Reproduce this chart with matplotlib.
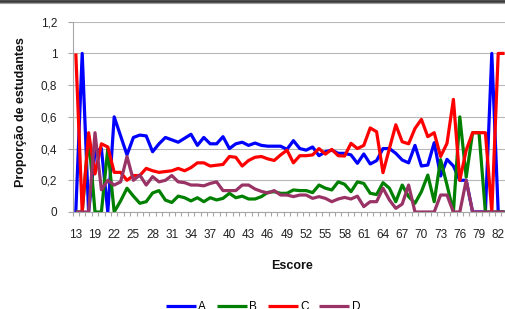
import matplotlib
matplotlib.use("Agg")
import matplotlib.pyplot as plt
from matplotlib.lines import Line2D
import numpy as np

# ---------------- data ----------------
scores = [13, 16, 18, 19, 20, 21, 22, 23, 24, 25, 26, 27, 28, 29, 30, 31, 32, 33,
          34, 35, 36, 37, 38, 39, 40, 41, 42, 43, 44, 45, 46, 47, 48, 49, 50, 51,
          52, 53, 54, 55, 56, 57, 58, 59, 60, 61, 62, 63, 64, 65, 66, 67, 68, 69,
          70, 71, 72, 73, 74, 75, 76, 77, 78, 79, 80, 81, 82, 83]

A = [0, 1.0, 0, 0.38, 0.40, 0, 0.60, 0.48, 0.36, 0.47,
     0.485, 0.48, 0.38, 0.43, 0.47, 0.455, 0.44, 0.465, 0.49, 0.42,
     0.47, 0.43, 0.43, 0.475, 0.40, 0.43, 0.44, 0.42, 0.435, 0.42,
     0.415, 0.415, 0.415, 0.395, 0.45, 0.40, 0.39, 0.41, 0.355, 0.38,
     0.39, 0.37, 0.37, 0.36, 0.307, 0.366, 0.303, 0.324, 0.40, 0.40,
     0.37, 0.328, 0.31, 0.42, 0.29, 0.296, 0.437, 0.227, 0.332, 0.29,
     0.20, 0.20, 0, 0, 0, 1.0, 0, 0]

B = [0, 0, 0.48, 0, 0, 0.40, 0, 0.07, 0.15, 0.10,
     0.055, 0.065, 0.12, 0.135, 0.075, 0.06, 0.10, 0.09, 0.07, 0.09,
     0.065, 0.09, 0.076, 0.086, 0.118, 0.09, 0.10, 0.082, 0.082, 0.097,
     0.124, 0.128, 0.118, 0.118, 0.139, 0.135, 0.135, 0.122, 0.17, 0.15,
     0.139, 0.19, 0.175, 0.128, 0.19, 0.18, 0.118, 0.11, 0.185, 0.15,
     0.065, 0.17, 0.097, 0.055, 0.128, 0.233, 0.065, 0.33, 0.17, 0,
     0.60, 0.22, 0.5, 0.5, 0, 0, 0, 0]

C = [1.0, 0, 0.5, 0.24, 0.43, 0.41, 0.25, 0.25, 0.2, 0.23,
     0.23, 0.275, 0.26, 0.25, 0.255, 0.26, 0.275, 0.26, 0.28, 0.31,
     0.31, 0.29, 0.295, 0.30, 0.35, 0.345, 0.29, 0.325, 0.345, 0.35,
     0.335, 0.325, 0.36, 0.39, 0.31, 0.355, 0.355, 0.36, 0.40, 0.365,
     0.395, 0.355, 0.353, 0.433, 0.40, 0.42, 0.53, 0.506, 0.248, 0.40,
     0.55, 0.443, 0.43, 0.527, 0.584, 0.475, 0.50, 0.35, 0.433, 0.71,
     0.20, 0.39, 0.5, 0.5, 0.5, 0, 1.0, 1.0]

D = [0, 0, 0, 0.5, 0.14, 0.2, 0.17, 0.19, 0.35, 0.2,
     0.233, 0.17, 0.223, 0.19, 0.2, 0.23, 0.19, 0.185, 0.17, 0.17,
     0.165, 0.18, 0.19, 0.135, 0.135, 0.135, 0.17, 0.17, 0.145, 0.13,
     0.12, 0.135, 0.107, 0.107, 0.097, 0.107, 0.107, 0.086, 0.097, 0.086,
     0.065, 0.082, 0.092, 0.082, 0.10, 0.034, 0.065, 0.065, 0.15, 0.076,
     0.023, 0.05, 0.17, 0, 0, 0, 0, 0.107, 0.107, 0,
     0, 0.2, 0, 0, 0, 0, 0, 0]

series_names = ["A", "B", "C", "D"]
series_colors = ["#0000FF", "#008000", "#FF0000", "#993366"]

y_ticks = [0, 0.2, 0.4, 0.6, 0.8, 1.0, 1.2]
y_ticklabels = ["0", "0,2", "0,4", "0,6", "0,8", "1", "1,2"]

# ---------------- figure ----------------
plt.rcParams['font.family'] = ['Liberation Sans', 'DejaVu Sans']

W, H = 505, 309
fig = plt.figure(figsize=(W / 100, H / 100), dpi=100)
fig.patch.set_facecolor("white")

ax = fig.add_axes([72.6 / W, 97 / H, 435.2 / W, 190.3 / H])
idx = np.arange(len(scores))

for vals, name, col in zip([A, B, C, D], series_names, series_colors):
    ax.plot(idx, vals, color=col, lw=2.3, label=name,
            solid_joinstyle="round", solid_capstyle="butt")

ax.set_xlim(-0.5, len(scores) - 0.5)
ax.set_ylim(0, 1.2)

gray = "#A6A6A6"
for s in ["top", "right"]:
    ax.spines[s].set_visible(False)
for s in ["left", "bottom"]:
    ax.spines[s].set_color(gray)
    ax.spines[s].set_linewidth(0.8)

ax.set_yticks(y_ticks)
ax.set_yticklabels(y_ticklabels)
ax.yaxis.grid(True, color="#B8B8B8", lw=0.8)
ax.set_axisbelow(True)
ax.tick_params(axis="y", which="major", length=3.6, width=0.8, color=gray,
               pad=7.5, labelsize=8.5, labelcolor="#222222")

ax.set_xticks(idx[::3])
ax.set_xticklabels([str(s) for s in scores[::3]])
ax.set_xticks(np.arange(-0.5, len(scores), 1), minor=True)
ax.tick_params(axis="x", which="major", length=0, pad=12.5, labelsize=8.5,
               labelcolor="#222222")
ax.tick_params(axis="x", which="minor", length=3.2, width=0.8, color=gray)

fig.text(292 / W, 1 - 266 / H, "Escore", ha="center", va="center",
         fontsize=9, fontweight="bold", color="#111111")
fig.text(21 / W, 1 - 112 / H, "Proporção de estudantes", ha="center",
         va="center", rotation=90, fontsize=9, fontweight="bold",
         color="#111111")

leg = ax.legend(ncol=4, loc="center", bbox_to_anchor=(263 / W, 1 - 306.7 / H),
                bbox_transform=fig.transFigure, frameon=False, fontsize=8.5,
                handlelength=2.55, handletextpad=0.2, columnspacing=0.9,
                borderpad=0)

# chart-area border (cropped) at the very top
fig.add_artist(Line2D([0, 1], [1 - 1.3 / H, 1 - 1.3 / H], transform=fig.transFigure,
                      color="#3A3A3A", lw=2.0))
fig.add_artist(Line2D([0, 1], [1 - 3.3 / H, 1 - 3.3 / H], transform=fig.transFigure,
                      color="#A0A0A0", lw=0.8))

fig.savefig("out.png", dpi=100, facecolor="white")
